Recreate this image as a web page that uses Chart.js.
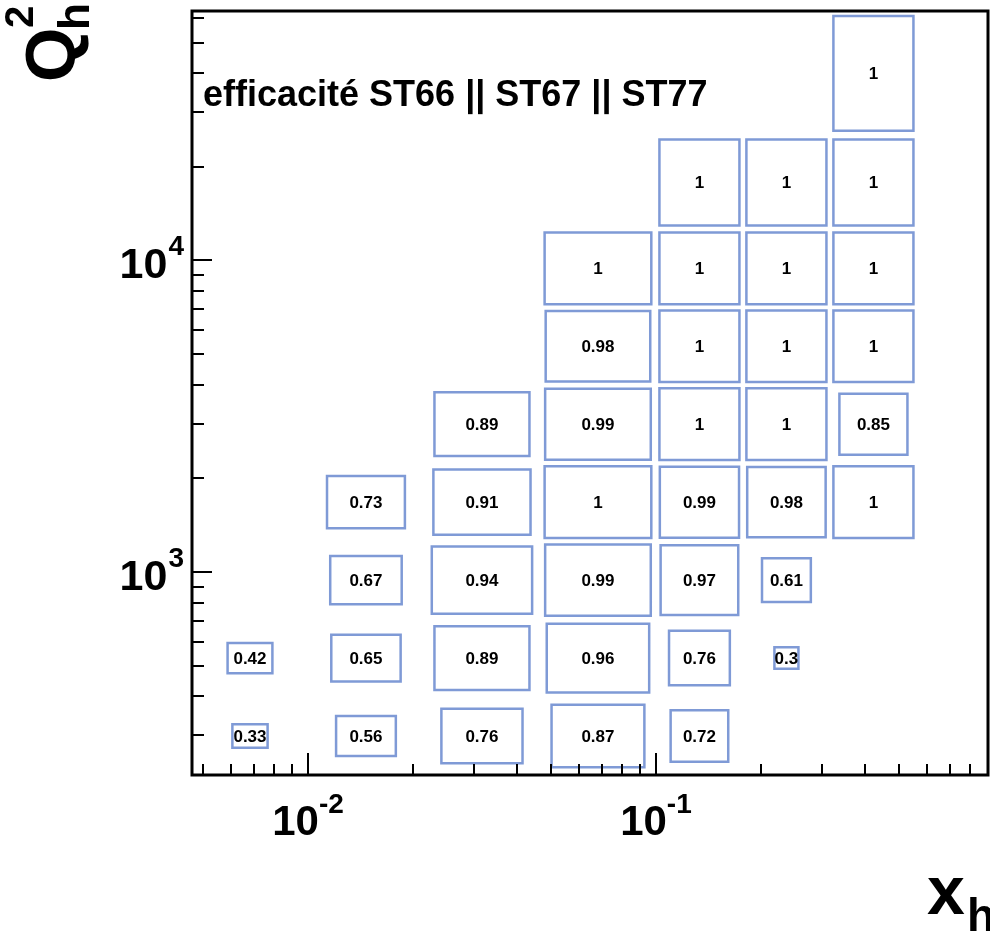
<!DOCTYPE html>
<html>
<head>
<meta charset="utf-8">
<script src="https://cdn.jsdelivr.net/npm/chart.js@4.4.1/dist/chart.umd.min.js"></script>
<style>
  html, body { margin: 0; padding: 0; background: #fff; }
  canvas { display: block; }
</style>
</head>
<body>
<canvas id="effChart" width="990" height="931"></canvas>
<script>
// bin edges of the 2D histogram
const xEdges = [0.004642, 0.01, 0.02154, 0.04642, 0.1, 0.1778, 0.3162, 0.5623];
const qEdges = [223.9, 398.1, 707.9, 1259, 2239, 3981, 7079, 12589, 25119, 63096];

// efficiency, one array per Q2 bin (bottom to top), one value per x bin
const row0 = [0.33, 0.56, 0.76, 0.87, 0.72, null, null];
const row1 = [0.42, 0.65, 0.89, 0.96, 0.76, 0.3, null];
const row2 = [null, 0.67, 0.94, 0.99, 0.97, 0.61, null];
const row3 = [null, 0.73, 0.91, 1, 0.99, 0.98, 1];
const row4 = [null, null, 0.89, 0.99, 1, 1, 0.85];
const row5 = [null, null, null, 0.98, 1, 1, 1];
const row6 = [null, null, null, 1, 1, 1, 1];
const row7 = [null, null, null, null, 1, 1, 1];
const row8 = [null, null, null, null, null, null, 1];
const effRows = [row0, row1, row2, row3, row4, row5, row6, row7, row8];

// axis ranges and labelled ticks
const xRange = [0.004642, 0.9];
const yRange = [223.9, 63096];
const xMajor = [0.01, 0.1];
const xMajorExp = ['-2', '-1'];
const yMajor = [1000, 10000];
const yMajorExp = ['3', '4'];

const title = 'efficacité ST66 || ST67 || ST77';
const boxFill = 0.92;   // box of value 1 vs. bin size
const boxColor = '#7f9ad6';

const log10 = Math.log10;

// box outlines, size proportional to the bin content
const boxPoints = [];
effRows.forEach((row, j) => {
    row.forEach((v, i) => {
        if (v === null) return;
        const lx = log10(xEdges[i]), hx = log10(xEdges[i + 1]);
        const ly = log10(qEdges[j]), hy = log10(qEdges[j + 1]);
        const cx = (lx + hx) / 2, cy = (ly + hy) / 2;
        const dx = v * boxFill * (hx - lx) / 2, dy = v * boxFill * (hy - ly) / 2;
        const x1 = Math.pow(10, cx - dx), x2 = Math.pow(10, cx + dx);
        const y1 = Math.pow(10, cy - dy), y2 = Math.pow(10, cy + dy);
        boxPoints.push({x: x1, y: y1}, {x: x2, y: y1}, {x: x2, y: y2},
                       {x: x1, y: y2}, {x: x1, y: y1}, {x: x1, y: null});
    });
});

const FONT = '"Liberation Sans", Arial, Helvetica, sans-serif';

// frame, ticks, labels and bin texts in ROOT style
const rootStyle = {
    id: 'rootStyle',
    afterDatasetsDraw(chart) {
        const ctx = chart.ctx;
        const area = chart.chartArea;
        const sx = chart.scales.x, sy = chart.scales.y;
        ctx.save();

        // bin contents
        ctx.fillStyle = '#000';
        ctx.font = 'bold 17px ' + FONT;
        ctx.textAlign = 'center';
        ctx.textBaseline = 'middle';
        effRows.forEach((row, j) => {
            row.forEach((v, i) => {
                if (v === null) return;
                const px = sx.getPixelForValue(Math.sqrt(xEdges[i] * xEdges[i + 1]));
                const py = sy.getPixelForValue(Math.sqrt(qEdges[j] * qEdges[j + 1]));
                ctx.fillText(String(v), px, py + 1);
            });
        });

        // ticks
        ctx.strokeStyle = '#000';
        ctx.lineWidth = 2;
        ctx.beginPath();
        for (let d = -3; d <= 0; d++) {
            for (let m = 1; m <= 9; m++) {
                const v = m * Math.pow(10, d);
                if (v <= xRange[0] || v >= xRange[1]) continue;
                const px = Math.round(sx.getPixelForValue(v));
                const len = m === 1 ? 22 : 11;
                ctx.moveTo(px, area.bottom);
                ctx.lineTo(px, area.bottom - len);
            }
        }
        for (let d = 2; d <= 4; d++) {
            for (let m = 1; m <= 9; m++) {
                const v = m * Math.pow(10, d);
                if (v <= yRange[0] || v >= yRange[1]) continue;
                const py = Math.round(sy.getPixelForValue(v));
                const len = m === 1 ? 20 : 12;
                ctx.moveTo(area.left, py);
                ctx.lineTo(area.left + len, py);
            }
        }
        ctx.stroke();

        // frame
        ctx.lineWidth = 3;
        ctx.strokeRect(area.left, area.top, area.right - area.left, area.bottom - area.top);

        // tick labels 10^n
        ctx.textBaseline = 'alphabetic';
        xMajor.forEach((v, k) => {
            const px = sx.getPixelForValue(v);
            ctx.font = 'bold 42px ' + FONT;
            const w1 = ctx.measureText('10').width;
            ctx.font = 'bold 28px ' + FONT;
            const w2 = ctx.measureText(xMajorExp[k]).width;
            const left = px - (w1 + w2) / 2;
            ctx.textAlign = 'left';
            ctx.font = 'bold 42px ' + FONT;
            ctx.fillText('10', left, 835);
            ctx.font = 'bold 28px ' + FONT;
            ctx.fillText(xMajorExp[k], left + w1, 813);
        });
        yMajor.forEach((v, k) => {
            const py = sy.getPixelForValue(v);
            ctx.font = 'bold 28px ' + FONT;
            const w2 = ctx.measureText(yMajorExp[k]).width;
            ctx.textAlign = 'right';
            ctx.fillText(yMajorExp[k], 184, py - 5);
            ctx.font = 'bold 43px ' + FONT;
            ctx.fillText('10', 184 - w2 - 1, py + 18);
        });

        // title inside the frame
        ctx.textAlign = 'left';
        ctx.font = 'bold 36px ' + FONT;
        ctx.fillText(title, 203, 106);

        // x axis title
        ctx.font = 'bold 68px ' + FONT;
        ctx.fillText('x', 927, 914);
        ctx.font = 'bold 46px ' + FONT;
        ctx.fillText('h', 967, 931);

        // y axis title, rotated
        ctx.translate(75, 82);
        ctx.rotate(-Math.PI / 2);
        ctx.font = 'bold 70px ' + FONT;
        ctx.fillText('Q', 0, 0);
        ctx.font = 'bold 40px ' + FONT;
        ctx.fillText('2', 54, -42);
        ctx.font = 'bold 44px ' + FONT;
        ctx.fillText('h', 52, 14);

        ctx.restore();
    }
};

const chart = new Chart(document.getElementById('effChart').getContext('2d'), {
    type: 'scatter',
    data: {
        datasets: [{
            label: 'efficacité',
            data: boxPoints,
            showLine: true,
            spanGaps: false,
            borderColor: boxColor,
            borderWidth: 2.5,
            borderJoinStyle: 'miter',
            borderCapStyle: 'square',
            pointRadius: 0,
            pointHoverRadius: 0,
            tension: 0,
            fill: false
        }]
    },
    options: {
        responsive: false,
        animation: false,
        layout: { padding: { left: 192, right: 2, top: 11, bottom: 156 } },
        plugins: {
            legend: { display: false },
            tooltip: { enabled: false }
        },
        scales: {
            x: { type: 'logarithmic', min: xRange[0], max: xRange[1], display: false },
            y: { type: 'logarithmic', min: yRange[0], max: yRange[1], display: false }
        }
    },
    plugins: [rootStyle]
});
</script>
</body>
</html>
